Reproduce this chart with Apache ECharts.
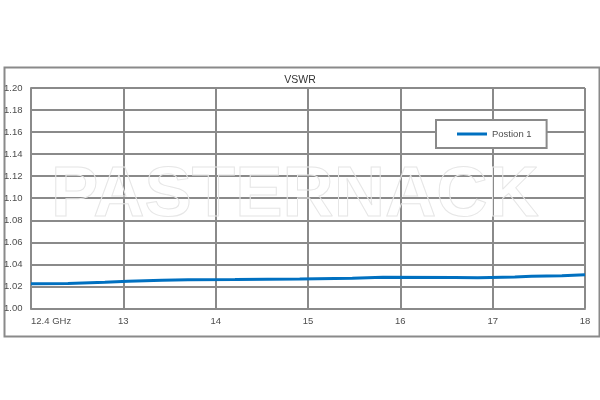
<!DOCTYPE html>
<html>
<head>
<meta charset="utf-8">
<script src="https://cdn.jsdelivr.net/npm/echarts@6/dist/echarts.min.js"></script>
<style>html,body{margin:0;padding:0;background:#fff}#c{width:600px;height:400px}</style>
</head>
<body>
<div id="c"></div>
<script>
// Tick labels on the x axis (equally spaced, as in the original)
const tickFreqs = [12.4, 13, 14, 15, 16, 17, 18];
const tickLabels = ['12.4 GHz', '13', '14', '15', '16', '17', '18'];
// Measured sweep (frequency in GHz, VSWR)
const freqs = [12.40, 12.64, 12.65, 12.88, 13.05, 13.42, 13.70, 14.21, 14.91, 15.48, 15.81, 16.59, 16.84, 17.24, 17.42, 17.75, 18.00];
const vswr  = [1.0225, 1.0226, 1.0235, 1.0238, 1.0247, 1.0256, 1.0260, 1.0262, 1.0268, 1.0275, 1.0284, 1.0281, 1.0278, 1.0286, 1.0293, 1.0298, 1.0305];
const seriesName = 'Postion 1';

// map frequency onto the equally spaced tick positions of the axis
function axisPos(f) {
  for (let i = 0; i < tickFreqs.length - 1; i++) {
    if (f <= tickFreqs[i + 1]) return i + (f - tickFreqs[i]) / (tickFreqs[i + 1] - tickFreqs[i]);
  }
  return tickFreqs.length - 1;
}
const lineData = freqs.map((f, i) => [axisPos(f), vswr[i]]);

const chart = echarts.init(document.getElementById('c'));
const gridColor = '#8a8a8a';
const txt = '#4d4d4d';
chart.setOption({
  animation: false,
  backgroundColor: '#fff',
  title: {
    text: 'VSWR', left: 'center', top: 70,
    textStyle: { fontFamily: 'Liberation Sans', fontSize: 10.5, fontWeight: 'normal', color: '#333' }
  },
  legend: {
    left: 436, top: 120,
    padding: [9, 15, 9, 21],
    borderColor: gridColor, borderWidth: 2, backgroundColor: '#fff',
    icon: 'rect', itemWidth: 30, itemHeight: 3, itemGap: 2,
    textStyle: { fontFamily: 'Liberation Sans', fontSize: 9.5, color: txt },
    data: [seriesName]
  },
  grid: { left: 31, right: 15, top: 88, bottom: 91.5, containLabel: false },
  xAxis: {
    type: 'value', min: 0, max: tickLabels.length - 1, interval: 1,
    axisLine: { show: true, lineStyle: { color: gridColor, width: 2 } },
    axisTick: { show: false },
    splitLine: { show: true, lineStyle: { color: gridColor, width: 2 } },
    axisLabel: {
      margin: 8, fontFamily: 'Liberation Sans', fontSize: 9.5, color: txt,
      alignMinLabel: 'left',
      formatter: v => tickLabels[Math.round(v)]
    }
  },
  yAxis: {
    type: 'value', min: 1.0, max: 1.2, interval: 0.02,
    axisLine: { show: true, lineStyle: { color: gridColor, width: 2 } },
    axisTick: { show: false },
    splitLine: { show: true, lineStyle: { color: gridColor, width: 2 } },
    axisLabel: {
      margin: 27, align: 'left', fontFamily: 'Liberation Sans', fontSize: 9.5, color: txt,
      formatter: v => v.toFixed(2)
    }
  },
  graphic: [
    { type: 'rect', left: 2, top: 65, z: 0,
      shape: { width: 595, height: 269 },
      style: { fill: 'none', stroke: gridColor, lineWidth: 2 } },
    { type: 'text', x: 295, y: 196, z: 1,
      style: { text: 'PASTERNACK', fontFamily: 'Liberation Sans', fontWeight: 'bold', fontSize: 71,
               align: 'center', verticalAlign: 'middle', fill: 'rgba(255,255,255,0)', stroke: '#e6e6e6', lineWidth: 1 } }
  ],
  series: [{
    name: seriesName, type: 'line', data: lineData, showSymbol: false, symbol: 'none',
    lineStyle: { color: '#0070C0', width: 3 }, itemStyle: { color: '#0070C0' }, z: 5
  }]
});
</script>
</body>
</html>
